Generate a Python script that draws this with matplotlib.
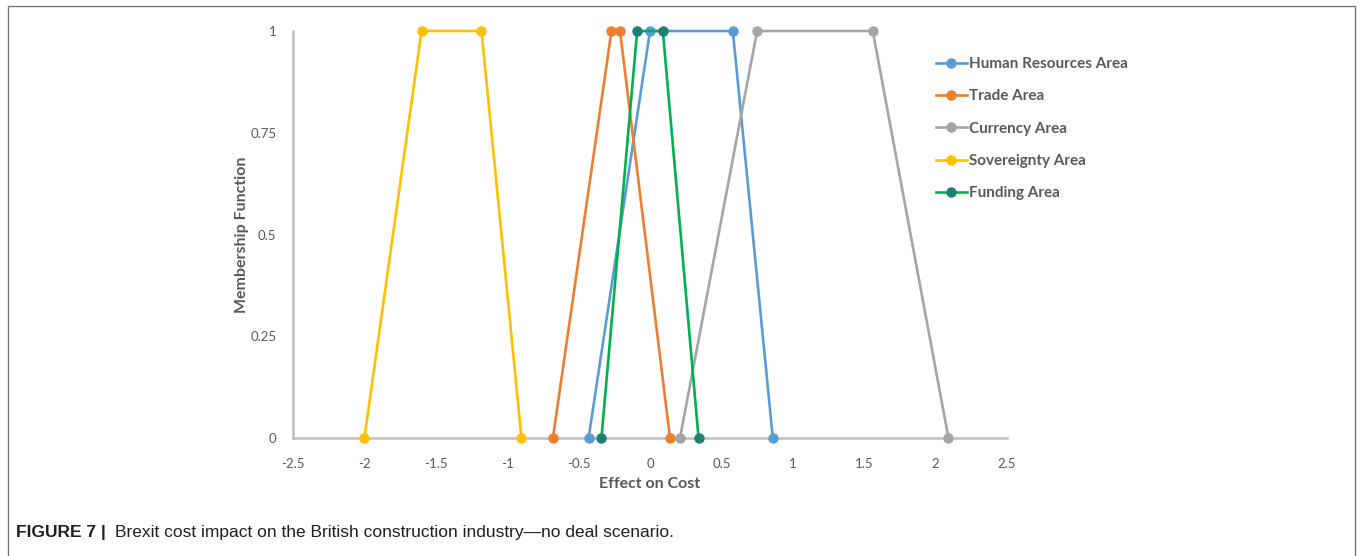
import matplotlib.pyplot as plt
from matplotlib.patches import Rectangle

# trapezoid membership functions
seriesNames = ["Human Resources Area", "Trade Area", "Currency Area", "Sovereignty Area", "Funding Area"]
humanResourcesX = [-0.43, 0.0, 0.58, 0.86]
tradeX = [-0.68, -0.27, -0.21, 0.14]
currencyX = [0.21, 0.75, 1.56, 2.09]
sovereigntyX = [-2.0, -1.6, -1.18, -0.9]
fundingX = [-0.34, -0.09, 0.09, 0.34]
membership = [0, 1, 1, 0]

xTicks = [-2.5, -2, -1.5, -1, -0.5, 0, 0.5, 1, 1.5, 2, 2.5]
xTickLabels = ["-2.5", "-2", "-1.5", "-1", "-0.5", "0", "0.5", "1", "1.5", "2", "2.5"]
yTicks = [0, 0.25, 0.5, 0.75, 1]
yTickLabels = ["0", "0.25", "0.5", "0.75", "1"]

lineColors = ["#5B9BD5", "#ED7D31", "#A5A5A5", "#FFC000", "#00B050"]
markerColors = ["#5B9BD5", "#ED7D31", "#A5A5A5", "#FFC000", "#1F7F72"]
textGray = "#595959"
axisGray = "#BFBFBF"
captionFont = ['Liberation Sans', 'DejaVu Sans']

plt.rcParams['font.family'] = ['Lato', 'DejaVu Sans']

fig = plt.figure(figsize=(13.6, 5.56), dpi=100)
ax = fig.add_axes([293 / 1360, 118 / 556, 714 / 1360, 407 / 556])

allX = [humanResourcesX, tradeX, currencyX, sovereigntyX, fundingX]
for name, xs, lc, mc in zip(seriesNames, allX, lineColors, markerColors):
    ax.plot(xs, membership, color=lc, linewidth=1.9, marker='o', markersize=6.5,
            markerfacecolor=mc, markeredgecolor=mc, label=name, clip_on=False, zorder=3)

ax.set_xlim(-2.5, 2.5)
ax.set_ylim(0, 1)
ax.set_xticks(xTicks)
ax.set_xticklabels(xTickLabels)
ax.set_yticks(yTicks)
ax.set_yticklabels(yTickLabels)
ax.tick_params(axis='both', length=0, labelsize=9.5, labelcolor=textGray)
ax.tick_params(axis='x', pad=14.5)
ax.tick_params(axis='y', pad=12)

for side in ['top', 'right']:
    ax.spines[side].set_visible(False)
for side in ['left', 'bottom']:
    ax.spines[side].set_color(axisGray)
    ax.spines[side].set_linewidth(1.8)
    ax.spines[side].set_zorder(1)

ax.set_xlabel("Effect on Cost", fontsize=11.5, fontweight='bold', color=textGray, labelpad=5)
ax.set_ylabel("Membership Function", fontsize=11.5, fontweight='bold', color=textGray, labelpad=1)

leg = fig.legend(loc='upper left', bbox_to_anchor=(930 / 1360, 1 - 51 / 556), frameon=False,
                 fontsize=11, handlelength=2.0, handletextpad=0.15, labelspacing=1.2,
                 borderaxespad=0)
for txt in leg.get_texts():
    txt.set_color(textGray)
    txt.set_fontweight('bold')

# page frame and caption
fig.patches.append(Rectangle((7.5 / 1360, -0.01), (1355 - 7.5) / 1360, 1 - 6 / 556 + 0.01,
                             transform=fig.transFigure, fill=False, edgecolor="#777777",
                             linewidth=1.0))
fig.text(16 / 1360, 1 - 533 / 556, "FIGURE 7 |", fontsize=12.5, fontweight='bold',
         family=captionFont, color="#231F20", va='center')
fig.text(115 / 1360, 1 - 533 / 556,
         "Brexit cost impact on the British construction industry\u2014no deal scenario.",
         fontsize=12.5, family=captionFont, color="#231F20", va='center')

fig.savefig("out.png", dpi=100)
